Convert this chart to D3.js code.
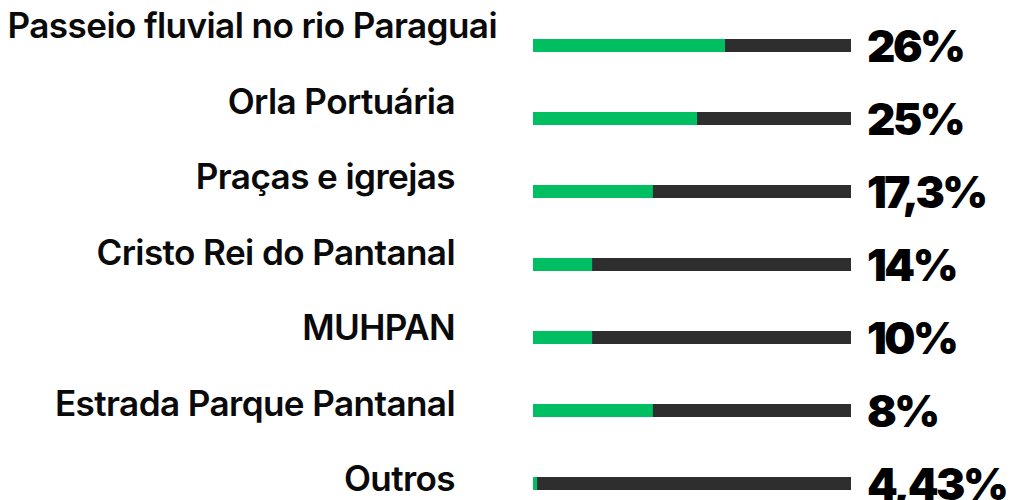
<!DOCTYPE html>
<html>
<head>
<meta charset="utf-8">
<script src="https://cdn.jsdelivr.net/npm/d3@7"></script>
<style>
  html, body { margin: 0; padding: 0; background: #ffffff; }
  svg { display: block; }
</style>
</head>
<body>
<svg id="chart" width="1013" height="500"></svg>
<script>
// ---- data ----
const categories = [
  "Passeio fluvial no rio Paraguai",
  "Orla Portuária",
  "Praças e igrejas",
  "Cristo Rei do Pantanal",
  "MUHPAN",
  "Estrada Parque Pantanal",
  "Outros"
];
const values = [26, 25, 17.3, 14, 10, 8, 4.43];
// green share of each bar track, as drawn in the picture (%)
const fillShare = [60.4, 51.6, 37.7, 18.6, 18.6, 37.7, 1.3];

// ---- layout ----
const svg = d3.select("#chart");

const barX0 = 533, barX1 = 851, barH = 13;
const x = d3.scaleLinear().domain([0, 100]).range([barX0, barX1]);
const yBar = d3.scalePoint().domain(categories).range([45.5, 483.5]);
const yLabel = d3.scalePoint().domain(categories).range([38, 491]);

const fmt = v => d3.format("~r")(v).replace(".", ",") + "%";

const rows = categories.map((c, i) => ({ c, v: values[i], f: fillShare[i] }));

// track
svg.append("g").selectAll("rect").data(rows).join("rect")
  .attr("x", x(0))
  .attr("y", d => yBar(d.c) - barH / 2)
  .attr("width", x(100) - x(0))
  .attr("height", barH)
  .attr("fill", "#2e2e2e");

// green fill
svg.append("g").selectAll("rect").data(rows).join("rect")
  .attr("x", x(0))
  .attr("y", d => yBar(d.c) - barH / 2)
  .attr("width", d => x(d.f) - x(0))
  .attr("height", barH)
  .attr("fill", "#00bf63");

// category labels
const labels = svg.append("g").selectAll("text").data(rows).join("text")
  .attr("x", 455)
  .attr("y", d => yLabel(d.c))
  .attr("text-anchor", "end")
  .attr("font-family", "Inter, 'Open Sans', sans-serif")
  .attr("font-weight", 600)
  .attr("font-size", 28)
  .attr("letter-spacing", -0.6)
  .attr("fill", "#0a0a0a")
  .text(d => d.c);
labels.filter((d, i) => i === 0).attr("x", 497);

const lw = labels.nodes()[0].getComputedTextLength();
labels.attr("font-size", 28 * 485 / lw);

// value labels
const vals = svg.append("g").selectAll("text").data(rows).join("text")
  .attr("x", 867)
  .attr("y", d => yBar(d.c) + 16)
  .attr("font-family", "Inter, 'Open Sans', sans-serif")
  .attr("font-weight", 900)
  .attr("font-size", 48)
  .attr("letter-spacing", -2.5)
  .attr("fill", "#000")
  .text(d => fmt(d.v));
const vw = vals.nodes()[0].getComputedTextLength();
vals.attr("font-size", 48 * 97 / vw);
</script>
</body>
</html>
